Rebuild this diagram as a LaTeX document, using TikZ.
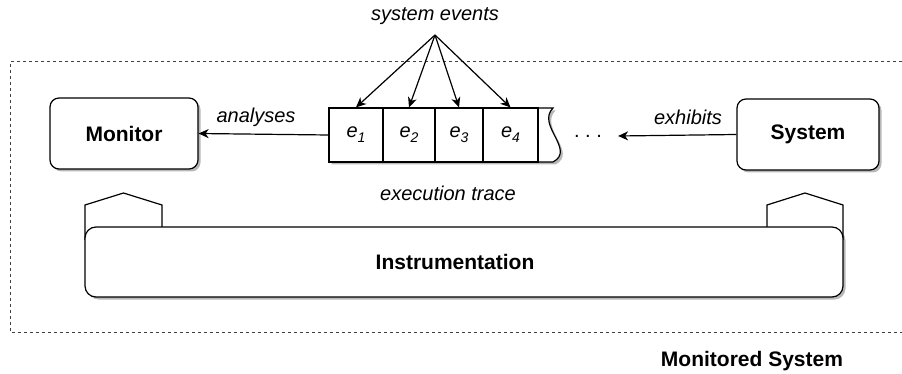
\documentclass[tikz,border=0pt]{standalone}
\usepackage{fontspec}
\setmainfont{Liberation Sans}
\usetikzlibrary{arrows.meta,shadows}

\newcommand{\ev}[1]{\itshape e\raisebox{-5pt}{\fontsize{14}{14}\selectfont #1}}

\begin{document}
\begin{tikzpicture}[x=1pt,y=-1pt,
  every node/.style={font=\fontsize{20}{24}\selectfont, inner sep=0pt},
  heading/.style={font=\fontsize{21}{25}\selectfont\bfseries},
  stroke/.style={line width=1.2pt, draw=black},
  shade/.style={drop shadow={shadow xshift=2.5pt, shadow yshift=-2.5pt, fill=black, opacity=0.28}},
  block/.style={stroke, rounded corners=9pt, fill=white, shade, heading},
  cell/.style={stroke, minimum height=54pt},
  link/.style={stroke, -{Stealth[length=10pt, width=9pt, inset=3pt]}},
  note/.style={font=\fontsize{20}{24}\selectfont\itshape},
  frame/.style={line width=1pt, draw=black!75, dash pattern=on 3pt off 3pt},
  sensor/.style={stroke, fill=white}]

\useasboundingbox (0,0) rectangle (902,374);

% outer boundary of the monitored system
\draw[frame] (902,62) -- (10,62) -- (10,332) -- (902,332);
\node[heading] (msys) at (752,361) {Monitored System};

% main components
\node[block, minimum width=148pt, minimum height=71pt] (mon) at (124,133.5) {Monitor};
\node[block, minimum width=142pt, minimum height=71pt] (sys) at (808,134.5) {System};

% probes attached to the instrumentation layer
\draw[sensor] (85,240) -- (85,205) -- (123.5,193) -- (162,205) -- (162,240);
\draw[sensor] (767,240) -- (767,205) -- (805,193) -- (843,205) -- (843,240);
\node[block, rounded corners=11pt, minimum width=758pt, minimum height=70pt,
  label={[heading, xshift=-9pt]center:Instrumentation}] (instr) at (464,262) {};

% execution trace as a tape of events
\path[stroke, fill=white, shade] (329,108) -- (553,108)
  .. controls (536,125) and (576,150) .. (553,162) -- (329,162) -- cycle;
\node[cell, minimum width=54pt] (e1) at (356,135) {\ev{1}};
\node[cell, minimum width=52pt] (e2) at (409,135) {\ev{2}};
\node[cell, minimum width=48pt] (e3) at (459,135) {\ev{3}};
\node[cell, minimum width=55pt] (e4) at (510.5,135) {\ev{4}};
\node[inner xsep=16pt] (dots) at (588,136) {.\ .\ .};
\node[note] (trace) at (448,193) {execution trace};

% event labels
\node[note] (events) at (435,16) {system events};
\coordinate (apex) at (435,35);
\foreach \c in {e1,e2,e3,e4}
  \draw[link] (apex) -- (\c.north);

% relations
\draw[link] (e1.west) -- (mon.east);
\node[note] (an) at (256,117) {analyses};
\draw[link] (sys.west) -- (dots.east);
\node[note] (ex) at (688,117) {exhibits};

\end{tikzpicture}
\end{document}
